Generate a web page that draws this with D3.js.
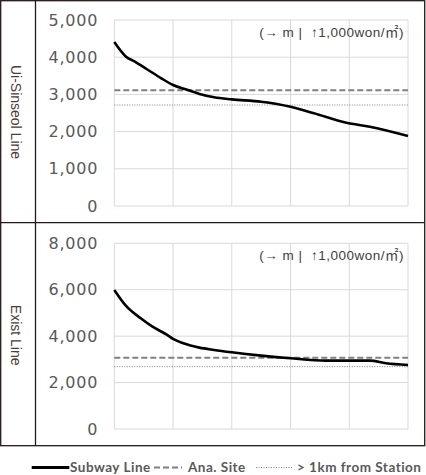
<!DOCTYPE html>
<html>
<head>
<meta charset="utf-8">
<script src="https://cdn.jsdelivr.net/npm/d3@7"></script>
<style>
  body { margin: 0; background: #fff; }
  svg { display: block; }
</style>
</head>
<body>
<div id="chart"></div>
<script>
// distance from station (m) and land price (1,000 won / m2)
const distUiSinseol = [0, 40, 70, 110, 160, 200, 250, 290, 340, 400, 500, 600, 680, 790, 870, 1000];
const priceUiSinseol = [4410, 4015, 3880, 3683, 3433, 3253, 3118, 3011, 2922, 2867, 2804, 2669, 2491, 2239, 2132, 1882];

const distExist = [0, 40, 90, 130, 180, 200, 235, 290, 340, 400, 500, 600, 720, 870, 925, 1000];
const priceExist = [5991, 5302, 4770, 4411, 4052, 3879, 3693, 3506, 3405, 3304, 3161, 3045, 2945, 2945, 2830, 2759];

const panelNames = ["Ui-Sinseol Line", "Exist Line"];
const anaSite = [3110, 3073];
const farFromStation = [2715, 2686];
const yMax = [5000, 8000];
const yStep = [1000, 2000];
const xTicks = [0, 200, 400, 600, 800, 1000];
const unitNote = "(\u2192 m |  \u21911,000won/\u33A1)";
const legendLabels = ["Subway Line", "Ana. Site", "> 1km from Station"];

const width = 426, height = 475;

const svg = d3.select("#chart")
    .append("svg")
    .attr("width", width)
    .attr("height", height);

// frame of the table
const frame = svg.append("g")
    .attr("stroke", "#231815")
    .attr("stroke-width", 1.3)
    .attr("fill", "none");
frame.append("rect").attr("x", 0.7).attr("y", 0.7).attr("width", 424).attr("height", 445);
frame.append("line").attr("x1", 35.5).attr("x2", 35.5).attr("y1", 0).attr("y2", 445.7);
frame.append("line").attr("x1", 0).attr("x2", 424.7).attr("y1", 222.7).attr("y2", 222.7);

const panels = [
    { top: 20, bottom: 206, dist: distUiSinseol, price: priceUiSinseol },
    { top: 243.3, bottom: 429, dist: distExist, price: priceExist }
];

const x = d3.scaleLinear().domain([0, 1000]).range([114.3, 408]);

panels.forEach(function(p, i) {
    const y = d3.scaleLinear().domain([0, yMax[i]]).range([p.bottom, p.top]);
    const g = svg.append("g");
    const yTicks = d3.range(0, yMax[i] + 1, yStep[i]);

    // gridlines
    g.selectAll(".hgrid")
        .data(yTicks)
        .enter()
        .append("line")
        .attr("x1", x(0)).attr("x2", x(1000))
        .attr("y1", d => y(d)).attr("y2", d => y(d))
        .attr("stroke", "#d9d9d9")
        .attr("stroke-width", 1);

    g.selectAll(".vgrid")
        .data(xTicks)
        .enter()
        .append("line")
        .attr("x1", d => x(d)).attr("x2", d => x(d))
        .attr("y1", p.top).attr("y2", p.bottom)
        .attr("stroke", "#d9d9d9")
        .attr("stroke-width", 1);

    // y axis labels
    const axis = g.append("g")
        .attr("transform", `translate(${x(0)},0)`)
        .call(d3.axisLeft(y).tickValues(yTicks).tickSize(0).tickPadding(16).tickFormat(d3.format(",")));
    axis.select(".domain").remove();
    axis.selectAll("text")
        .attr("font-family", "DejaVu Sans, sans-serif")
        .attr("font-size", "16px")
        .attr("letter-spacing", "0.8px")
        .attr("fill", "#595959");

    // reference lines
    g.append("line")
        .attr("x1", x(0)).attr("x2", x(1000))
        .attr("y1", y(anaSite[i])).attr("y2", y(anaSite[i]))
        .attr("stroke", "#808080")
        .attr("stroke-width", 2)
        .attr("stroke-dasharray", "6,3");

    g.append("line")
        .attr("x1", x(0)).attr("x2", x(1000))
        .attr("y1", y(farFromStation[i])).attr("y2", y(farFromStation[i]))
        .attr("stroke", "#808080")
        .attr("stroke-width", 1)
        .attr("stroke-dasharray", "1,1.5");

    // subway line curve
    const line = d3.line()
        .x(d => x(d[0]))
        .y(d => y(d[1]))
        .curve(d3.curveMonotoneX);

    g.append("path")
        .datum(d3.zip(p.dist, p.price))
        .attr("d", line)
        .attr("fill", "none")
        .attr("stroke", "#000")
        .attr("stroke-width", 2.6);

    // unit note
    g.append("text")
        .attr("x", 404)
        .attr("y", p.top + 17)
        .attr("text-anchor", "end")
        .attr("font-family", "Liberation Sans, Noto Sans CJK KR, sans-serif")
        .attr("font-size", "13.5px")
        .attr("letter-spacing", "0.5px")
        .attr("xml:space", "preserve")
        .style("white-space", "pre")
        .attr("fill", "#404040")
        .text(unitNote);

    // panel label
    const midY = (p.top + p.bottom) / 2 - 1;
    g.append("text")
        .attr("transform", `translate(11,${midY}) rotate(90)`)
        .attr("text-anchor", "middle")
        .attr("font-family", "Liberation Sans, sans-serif")
        .attr("font-size", "14px")
        .attr("fill", "#4a3f38")
        .text(panelNames[i]);
});

// legend
const legend = svg.append("g")
    .attr("font-family", "Lato, sans-serif")
    .attr("font-weight", "bold")
    .attr("font-size", "13.5px")
    .attr("letter-spacing", "0.5px")
    .attr("fill", "#595959");
const ly = 467.5;

legend.append("line")
    .attr("x1", 31.7).attr("x2", 69.3).attr("y1", ly).attr("y2", ly)
    .attr("stroke", "#000").attr("stroke-width", 3);
legend.append("text").attr("x", 70).attr("y", ly + 4.8).text(legendLabels[0]);

legend.append("line")
    .attr("x1", 154).attr("x2", 182).attr("y1", ly).attr("y2", ly)
    .attr("stroke", "#808080").attr("stroke-width", 2).attr("stroke-dasharray", "6,3");
legend.append("text").attr("x", 188).attr("y", ly + 4.8).text(legendLabels[1]);

legend.append("line")
    .attr("x1", 256).attr("x2", 292).attr("y1", ly).attr("y2", ly)
    .attr("stroke", "#808080").attr("stroke-width", 1).attr("stroke-dasharray", "1,1.5");
legend.append("text").attr("x", 297).attr("y", ly + 4.8).text(legendLabels[2]);
</script>
</body>
</html>
